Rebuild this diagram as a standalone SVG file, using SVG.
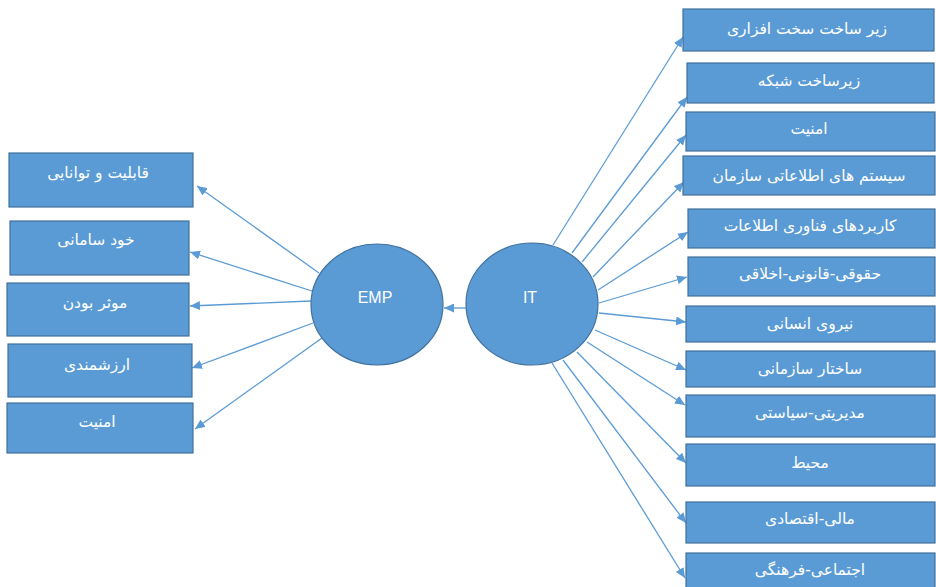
<svg xmlns="http://www.w3.org/2000/svg" width="936" height="587" viewBox="0 0 936 587">
<defs>
<marker id="ah" markerUnits="userSpaceOnUse" markerWidth="11" markerHeight="9" refX="10" refY="4.5" orient="auto">
<path d="M0,0 L10,4.5 L0,9 z" fill="#5B9BD5"/>
</marker>
</defs>
<style>
.box{fill:#5B9BD5;stroke:#41719C;stroke-width:1.2}
.circ{fill:#5B9BD5;stroke:#41719C;stroke-width:1.2}
.lbl{font-family:"DejaVu Sans",sans-serif;font-size:15.5px;fill:#FFFFFF;text-anchor:middle}
.clbl{font-family:"Liberation Sans",Arial,sans-serif;font-size:16px;fill:#FFFFFF;text-anchor:middle}
.con{stroke:#5B9BD5;stroke-width:1.3;fill:none;marker-end:url(#ah)}
</style>
<rect width="936" height="587" fill="#FFFFFF"/>
<g id="connectors">
<line class="con" x1="319" y1="273" x2="197" y2="186"/>
<line class="con" x1="312" y1="291" x2="190" y2="252"/>
<line class="con" x1="311" y1="301" x2="190" y2="306"/>
<line class="con" x1="313" y1="323" x2="192" y2="368"/>
<line class="con" x1="322" y1="338" x2="195" y2="429"/>
<line class="con" x1="466" y1="308" x2="444" y2="308"/>
<line class="con" x1="553" y1="245" x2="683" y2="37"/>
<line class="con" x1="572" y1="253" x2="687" y2="97"/>
<line class="con" x1="582" y1="262" x2="686" y2="135"/>
<line class="con" x1="593" y1="277" x2="684" y2="182"/>
<line class="con" x1="598" y1="290" x2="688" y2="232"/>
<line class="con" x1="599" y1="303" x2="687" y2="277"/>
<line class="con" x1="599" y1="313" x2="686" y2="322"/>
<line class="con" x1="595" y1="330" x2="686" y2="370"/>
<line class="con" x1="587" y1="342" x2="685" y2="405"/>
<line class="con" x1="577" y1="352" x2="686" y2="463"/>
<line class="con" x1="563" y1="360" x2="686" y2="523"/>
<line class="con" x1="552" y1="363" x2="685" y2="578"/>
</g>
<g id="EMP"><ellipse class="circ" cx="377" cy="304.5" rx="66" ry="60.5"/><text class="clbl" x="375" y="303">EMP</text></g>
<g id="IT"><ellipse class="circ" cx="532" cy="304" rx="66" ry="61"/><text class="clbl" x="530" y="303">IT</text></g>
<g id="L1"><rect class="box" x="9" y="153" width="184" height="54"/><text class="lbl" x="98" y="178">قابلیت و توانایی</text></g>
<g id="L2"><rect class="box" x="10" y="221" width="179" height="54"/><text class="lbl" x="96" y="245">خود سامانی</text></g>
<g id="L3"><rect class="box" x="7" y="283" width="182" height="53"/><text class="lbl" x="95" y="308">موثر بودن</text></g>
<g id="L4"><rect class="box" x="8" y="344" width="184" height="53"/><text class="lbl" x="97" y="370">ارزشمندی</text></g>
<g id="L5"><rect class="box" x="7" y="403" width="186" height="50"/><text class="lbl" x="97" y="427">امنیت</text></g>
<g id="R1"><rect class="box" x="683" y="9" width="251" height="42"/><text class="lbl" x="807" y="34">زیر ساخت سخت افزاری</text></g>
<g id="R2"><rect class="box" x="687" y="63" width="247" height="40"/><text class="lbl" x="809" y="86">زیرساخت شبکه</text></g>
<g id="R3"><rect class="box" x="686" y="112" width="249" height="39"/><text class="lbl" x="809" y="134">امنیت</text></g>
<g id="R4"><rect class="box" x="683" y="156" width="252" height="39"/><text class="lbl" x="809" y="181">سیستم های اطلاعاتی سازمان</text></g>
<g id="R5"><rect class="box" x="688" y="209" width="247" height="39"/><text class="lbl" x="810" y="231">کاربردهای فناوری اطلاعات</text></g>
<g id="R6"><rect class="box" x="688" y="257" width="247" height="39"/><text class="lbl" x="810" y="279">حقوقی-قانونی-اخلاقی</text></g>
<g id="R7"><rect class="box" x="686" y="306" width="249" height="36"/><text class="lbl" x="810" y="329">نیروی انسانی</text></g>
<g id="R8"><rect class="box" x="686" y="351" width="249" height="36"/><text class="lbl" x="810" y="374">ساختار سازمانی</text></g>
<g id="R9"><rect class="box" x="686" y="395" width="249" height="42"/><text class="lbl" x="810" y="418">مدیریتی-سیاستی</text></g>
<g id="R10"><rect class="box" x="686" y="444" width="249" height="42"/><text class="lbl" x="810" y="468">محیط</text></g>
<g id="R11"><rect class="box" x="686" y="502" width="249" height="41"/><text class="lbl" x="810" y="524">مالی-اقتصادی</text></g>
<g id="R12"><rect class="box" x="686" y="553" width="249" height="42"/><text class="lbl" x="810" y="575">اجتماعی-فرهنگی</text></g>
</svg>
